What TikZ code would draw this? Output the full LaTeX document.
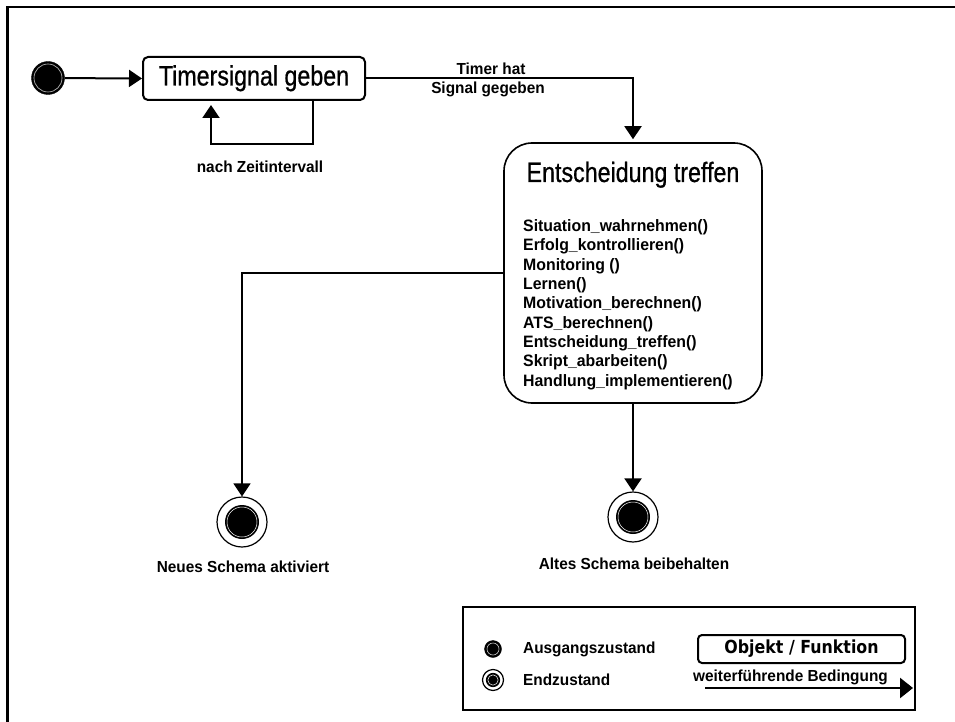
\documentclass[tikz,border=0pt]{standalone}
\usepackage{fontspec}
\setmainfont{Liberation Sans}
\newfontfamily\titlefont[FakeStretch=0.83,FakeBold=0.7]{Liberation Sans}
\newfontfamily\labelfont[FakeStretch=0.96]{Liberation Sans}
\newfontfamily\legendfont[FakeStretch=0.88]{DejaVu Sans}
\usetikzlibrary{arrows.meta}

\begin{document}
\begin{tikzpicture}[x=1pt,y=-1pt,
  arr/.style={-{Triangle[length=13pt,width=17pt]}},
  conn/.style={line width=2pt, arr},
  lbl/.style={font=\labelfont\bfseries\fontsize{16}{18}\selectfont, inner sep=0pt},
  methodtext/.style={font=\labelfont\bfseries\fontsize{16.5}{19}\selectfont, inner sep=0pt, anchor=base west},
  titletext/.style={font=\titlefont\fontsize{28}{30}\selectfont, inner sep=0pt},
  initstate/.style={circle, fill=black, draw=black, minimum size=#1, inner sep=0pt,
    path picture={\draw[gray!45, line width=0.6pt] (path picture bounding box.center) circle[radius=#1/2-2.5pt];}},
  finalstate/.style={circle, draw=black, line width=1.2pt, fill=white, minimum size=#1, inner sep=0pt,
    path picture={\fill[black] (path picture bounding box.center) circle[radius=#1*0.34];
      \draw[white, line width=0.5pt] (path picture bounding box.center) circle[radius=#1*0.34-2pt];}},
]
\useasboundingbox (0,0) rectangle (955,722);
\fill[white] (0,0) rectangle (955,722);
% frame
\draw[line width=2.5pt] (7.5,722) -- (7.5,7) -- (955,7);

% states
\node[initstate=33pt] (init) at (48,78) {};
\node[draw, line width=2pt, rounded corners=5pt, minimum width=222pt, minimum height=43pt,
  inner sep=0pt, titletext, text height=20pt, text depth=6pt] (timer) at (254,78.5) {Timersignal geben};

\node[draw, line width=1.6pt, rounded corners=28pt, minimum width=258pt, minimum height=260pt] (decide) at (633,273) {};
\node[titletext, anchor=base] (decidetitle) at (633,182) {Entscheidung treffen};
\foreach \m [count=\i] in {Situation\_wahrnehmen(), Erfolg\_kontrollieren(), Monitoring (), Lernen(),
  Motivation\_berechnen(), ATS\_berechnen(), Entscheidung\_treffen(), Skript\_abarbeiten(),
  Handlung\_implementieren()}
  \node[methodtext] (method\i) at (523,{231.5+19.35*(\i-1)}) {\m};

\node[finalstate=50pt] (newschema) at (242,522) {};
\node[finalstate=50pt] (oldschema) at (633,517) {};

% transitions
\draw[conn] (init) -- (timer.west);
\draw[conn, shorten >=4pt] ([xshift=59pt]timer.south) -- ++(0,43) -| ([xshift=-43pt]timer.south);
\draw[conn, shorten >=3pt] (timer.east) -| (decide.north);
\draw[conn, line width=1.4pt] (decide.west) -| (newschema.north);
\draw[conn] (decide.south) -- (oldschema.north);

% transition and state labels
\node[lbl] (loopnote) at (260,167) {nach Zeitintervall};
\node[lbl, anchor=base] (timernote1) at (491,75) {Timer hat};
\node[lbl, anchor=base] (timernote2) at (488,93.5) {Signal gegeben};
\node[lbl, anchor=base] (newnote) at (243,572) {Neues Schema aktiviert};
\node[lbl, anchor=base] (oldnote) at (634,569) {Altes Schema beibehalten};

% legend
\node[draw, line width=1.3pt, minimum width=452pt, minimum height=103pt, inner sep=0pt] (legend) at (689,658.5) {};
\node[initstate=17pt] (legendinit) at (493,649) {};
\node[finalstate=21pt] (legendfinal) at (493,680) {};
\node[lbl, anchor=base west] (legendinittext) at (523,653.5) {Ausgangszustand};
\node[lbl, anchor=base west] (legendfinaltext) at (523,685) {Endzustand};
\node[draw, line width=2pt, rounded corners=4pt, minimum width=207pt, minimum height=28pt, inner sep=0pt,
  font=\legendfont\bfseries\fontsize{18}{20}\selectfont, text height=13pt, text depth=4pt] (legendobj) at (801.5,649) {Objekt / Funktion};
\node[lbl, anchor=base west] (legendcond) at (693,681.5) {weiterführende Bedingung};
\coordinate (condstart) at (705,688);
\coordinate (condend) at (913,688);
\draw[line width=2.5pt, -{Triangle[length=13pt,width=20pt]}] (condstart) -- (condend);
\end{tikzpicture}
\end{document}
